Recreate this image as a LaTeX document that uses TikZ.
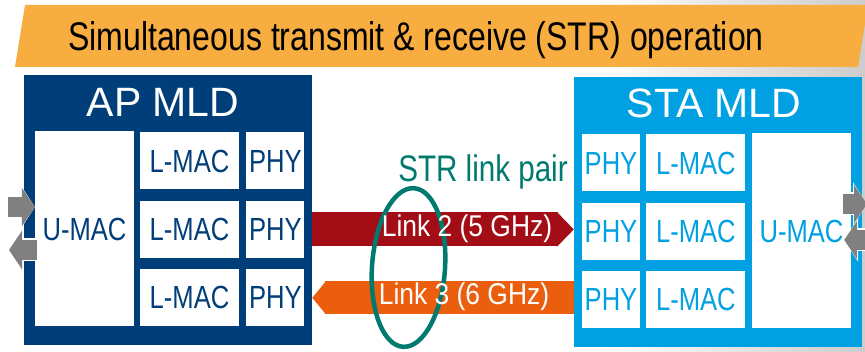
\documentclass[tikz,border=0pt]{standalone}
\usepackage{fontspec}
\setmainfont{Liberation Sans}
\newfontfamily\narrowsf[FakeStretch=0.8]{Liberation Sans}
\newfontfamily\linksf[FakeStretch=0.88]{Liberation Sans}
\usepackage{tikz}
\usetikzlibrary{arrows.meta,positioning,shapes.geometric}
\definecolor{apblue}{RGB}{0,62,122}
\definecolor{stablue}{RGB}{0,160,227}
\definecolor{bannerorange}{RGB}{247,173,64}
\definecolor{linkred}{RGB}{163,14,22}
\definecolor{linkorange}{RGB}{234,94,14}
\definecolor{strteal}{RGB}{0,122,110}
\definecolor{arrgray}{RGB}{128,128,128}

\begin{document}
\begin{tikzpicture}[
  x=1pt, y=-1pt,
  node distance=11pt and 7pt,
  mld/.style={rectangle, minimum width=288pt, minimum height=270pt, inner sep=0pt},
  mldtitle/.style={font=\fontsize{41}{49}\selectfont, text=white, inner sep=0pt},
  cell/.style={rectangle, fill=white, inner sep=0pt, minimum height=57pt, font=\narrowsf\fontsize{32}{38}\selectfont},
  lmac/.style={cell, minimum width=99pt},
  phy/.style={cell, minimum width=58pt},
  umac/.style={cell, minimum width=99pt, minimum height=195pt},
  linkarr/.style={line width=34pt, -{Triangle[length=17pt,width=34pt]}},
  linklbl/.style={text=white, inner sep=0pt, font=\linksf\fontsize{30}{36}\selectfont},
  grayarr/.style={line width=20pt, draw=arrgray, -{Triangle[length=13pt,width=38pt]},
    preaction={draw=white, line width=23pt, -{Triangle[length=14pt,width=43pt]}}}
]
\useasboundingbox (0,0) rectangle (865,352);
% photo-like background on the right
\shade[left color=white, right color=black!20] (600,0) rectangle (865,352);

% banner
\fill[bannerorange] (25,5) -- (868,5) -- (858,67) -- (15,67) -- cycle;
\node[inner sep=0pt, font=\narrowsf\fontsize{40}{48}\selectfont] (banner) at (416,40) {Simultaneous transmit \& receive (STR) operation};

% AP MLD
\node[mld, fill=apblue] (apmld) at (168,210) {};
\node[mldtitle] (aptitle) at (163,102) {AP MLD};
\node[umac, text=apblue] (apumac) at (84.5,229) {U-MAC};
\node[lmac, text=apblue] (aplmac1) at (189.5,161) {L-MAC};
\node[lmac, text=apblue, below=of aplmac1] (aplmac2) {L-MAC};
\node[lmac, text=apblue, below=of aplmac2] (aplmac3) {L-MAC};
\node[phy, text=apblue, right=of aplmac1] (apphy1) {PHY};
\node[phy, text=apblue, right=of aplmac2] (apphy2) {PHY};
\node[phy, text=apblue, right=of aplmac3] (apphy3) {PHY};

% STA MLD
\node[mld, fill=stablue] (stamld) at (718,212) {};
\node[mldtitle] (statitle) at (714,103) {STA MLD};
\node[phy, text=stablue] (stphy1) at (611,163) {PHY};
\node[phy, text=stablue, below=of stphy1] (stphy2) {PHY};
\node[phy, text=stablue, below=of stphy2] (stphy3) {PHY};
\node[lmac, text=stablue, right=6pt of stphy1] (stlmac1) {L-MAC};
\node[lmac, text=stablue, right=6pt of stphy2] (stlmac2) {L-MAC};
\node[lmac, text=stablue, right=6pt of stphy3] (stlmac3) {L-MAC};
\node[umac, text=stablue] (stumac) at (801.5,231) {U-MAC};

% upper-layer arrows
\coordinate (apin) at (8,207);
\coordinate (apout) at (9,250);
\coordinate (stout) at (867,204);
\coordinate (stin) at (880,240);
\draw[grayarr] (apin) -- (apin -| apumac.west);
\draw[grayarr] ([xshift=2pt]apout -| apumac.west) -- (apout);
\draw[grayarr] ([xshift=-8pt]stout -| stumac.east) -- (stout);
\draw[grayarr] (stin) -- ([xshift=-7pt]stin -| stumac.east);

% links
\draw[linkarr, linkred] (apmld.east |- apphy2) -- (stamld.west |- apphy2);
\draw[linkarr, linkorange, line width=33pt, -{Triangle[length=14pt,width=33pt]}] (stamld.west |- apphy3) -- (apmld.east |- apphy3);

% STR link pair
\node[ellipse, draw=strteal, line width=4.5pt, minimum width=73pt, minimum height=159pt, rotate=-4] (strpair) at (408.5,267.5) {};
\node[text=strteal, inner sep=0pt, font=\narrowsf\fontsize{37}{44}\selectfont] (strlbl) at (483,172) {STR link pair};

\node[linklbl] (link2) at (467,229) {Link 2 (5 GHz)};
\node[linklbl] (link3) at (464,297) {Link 3 (6 GHz)};
\end{tikzpicture}
\end{document}
